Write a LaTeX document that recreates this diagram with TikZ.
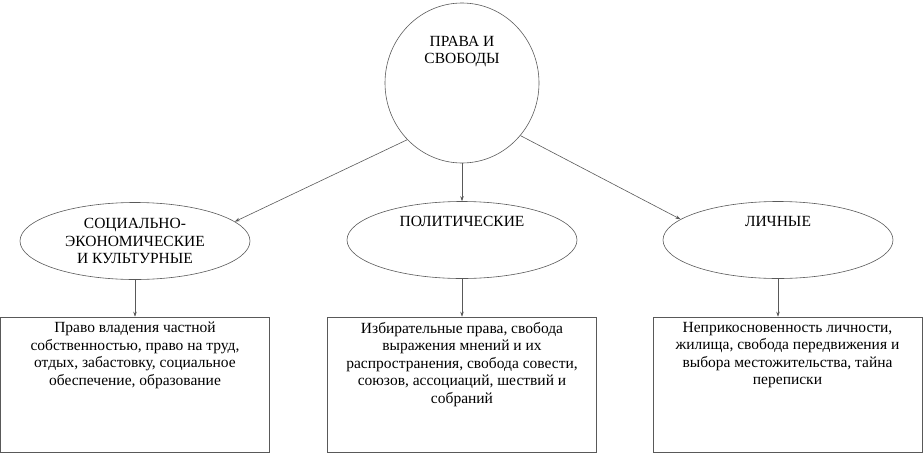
\documentclass[tikz,border=0pt]{standalone}
\usepackage{fontspec}
\setmainfont{Liberation Serif}
\usetikzlibrary{shapes.geometric,arrows.meta}

\begin{document}
\begin{tikzpicture}[x=1pt, y=-1pt, line width=0.6pt,
    txt/.style={align=center, inner sep=0pt, font=\fontsize{15.5}{17.5}\selectfont},
    oval/.style={ellipse, draw=black!65, minimum width=230pt, minimum height=77pt, inner sep=0pt, txt},
    box/.style={rectangle, draw=black!65, minimum width=269pt, minimum height=135pt, inner sep=0pt},
    arr/.style={draw=black!65, -{Stealth[length=5pt,width=3.5pt]}}]
    \useasboundingbox (0,0) rectangle (924,453);

    % Top circle
    \node[ellipse, draw=black!65, minimum width=154pt, minimum height=160pt,
          label={[txt, anchor=north, yshift=-33pt]north:{ПРАВА И\\СВОБОДЫ}}] (rights) at (462,83) {};

    % Three groups of rights
    \node[oval] (social) at (135,241) {СОЦИАЛЬНО-\\ЭКОНОМИЧЕСКИЕ\\И КУЛЬТУРНЫЕ};
    \node[oval, label={[txt, anchor=north, yshift=-15pt]north:{ПОЛИТИЧЕСКИЕ}}] (polit) at (462,240) {};
    \node[oval, label={[txt, anchor=north, yshift=-15pt]north:{ЛИЧНЫЕ}}] (person) at (778,240) {};

    % Boxes with the contents
    \node[box, label={[txt, anchor=north, yshift=-5pt]north:{Право владения частной\\собственностью, право на труд,\\отдых, забастовку, социальное\\обеспечение, образование}}] (socbox) at (135,384.5) {};
    \node[box, label={[txt, anchor=north, yshift=-5pt]north:{Избирательные права, свобода\\выражения мнений  и их\\распространения, свобода совести,\\союзов, ассоциаций, шествий и\\собраний}}] (polbox) at (462,384.5) {};
    \node[box, label={[txt, anchor=north, yshift=-5pt]north:{Неприкосновенность личности,\\жилища, свобода передвижения и\\выбора местожительства, тайна\\переписки}}] (perbox) at (787.5,384.5) {};

    % Arrows
    \draw[arr] (rights.226) -- (social.11);
    \draw[arr] (rights.south) -- (polit.north);
    \draw[arr] (rights.318) -- (person.168);
    \draw[arr] (social) -- (socbox);
    \draw[arr] (polit) -- (polbox);
    \draw[arr] (person.south) -- (person.south |- perbox.north);
\end{tikzpicture}
\end{document}
